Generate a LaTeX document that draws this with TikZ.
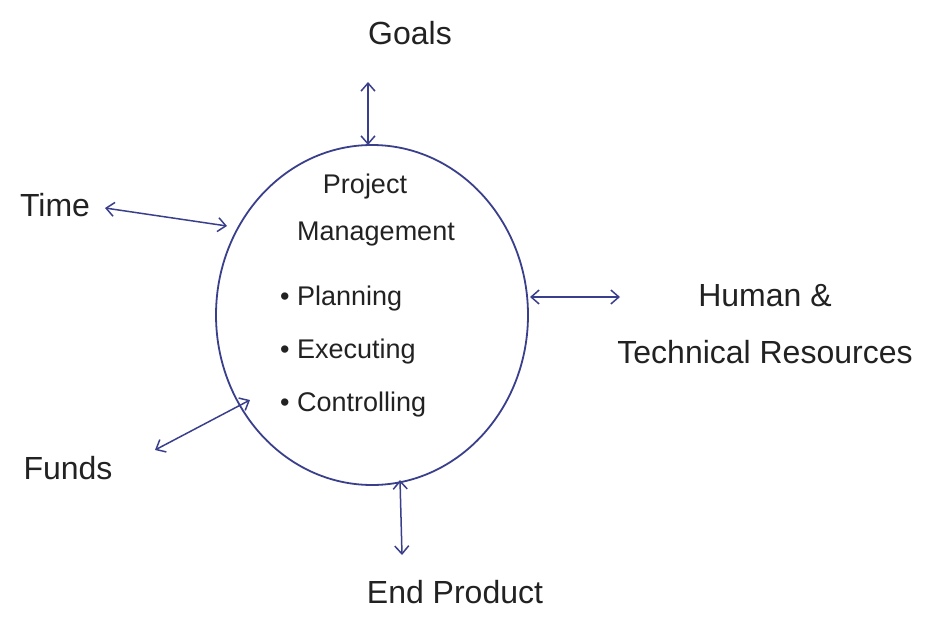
\documentclass[tikz,border=0pt]{standalone}
\usepackage{fontspec}
\setmainfont{Liberation Sans}
\usetikzlibrary{arrows.meta,shapes.geometric}
\definecolor{ink}{HTML}{3A3F8C}
\definecolor{txt}{HTML}{222222}
\tikzset{
  lbl/.style={text=txt, font=\fontsize{32}{36}\selectfont, inner sep=0pt},
  inlbl/.style={text=txt, font=\fontsize{27}{31}\selectfont, inner sep=0pt},
  itm/.style={text=txt, font=\fontsize{27}{31}\selectfont, inner sep=0pt, anchor=west},
  link/.style={draw=ink, line width=1.5pt, {Straight Barb[length=8pt,width=14pt]}-{Straight Barb[length=8pt,width=14pt]}},
  bubble/.style={draw=ink, line width=1.8pt, ellipse, minimum width=312pt, minimum height=340pt}
}
\begin{document}
\begin{tikzpicture}[x=1pt,y=-1pt]
\useasboundingbox (0,0) rectangle (952,618);
\node[bubble] (pm) at (372,315) {};
\node[inlbl] (proj) at (365,187) {Project};
\node[inlbl] (mgmt) at (376,234) {Management};
\node[itm] (plan) at (280,299) {\textbullet\ Planning};
\node[itm] (exec) at (280,352) {\textbullet\ Executing};
\node[itm] (ctrl) at (280,405) {\textbullet\ Controlling};
\node[lbl] (goals) at (410,33) {Goals};
\node[lbl] (time) at (55,205) {Time};
\node[lbl] (human) at (765,296) {Human \&};
\node[lbl] (tech) at (765,352) {Technical Resources};
\node[lbl] (funds) at (68,468) {Funds};
\node[lbl] (end) at (455,592) {End Product};
\coordinate (gA) at (368,82);
\coordinate (gB) at (368,145);
\coordinate (tA) at (105,208);
\coordinate (tB) at (227,226);
\coordinate (hA) at (530,297);
\coordinate (hB) at (620,297);
\coordinate (fA) at (155,450);
\coordinate (fB) at (250,400);
\coordinate (eA) at (400,480);
\coordinate (eB) at (402,555);
\draw[link] (gA) -- (gB);
\draw[link] (tA) -- (tB);
\draw[link] (hA) -- (hB);
\draw[link] (fA) -- (fB);
\draw[link] (eA) -- (eB);
\end{tikzpicture}
\end{document}
